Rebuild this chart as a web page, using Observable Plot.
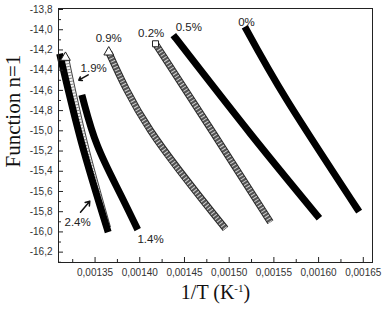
<!DOCTYPE html>
<html><head><meta charset="utf-8">
<script src="https://cdn.jsdelivr.net/npm/d3@7"></script>
<script src="https://cdn.jsdelivr.net/npm/@observablehq/plot@0.6"></script>
<style>body{margin:0;background:#fff}#chart{width:382px;height:323px}</style>
</head><body><div id="chart"></div>
<script>
// ---- data ----
const x_0   = [0.0015194, 0.0015649, 0.0016432];
const y_0   = [-14.001, -14.700, -15.771];
const x_05  = [0.0014399, 0.0015238, 0.0015984];
const y_05  = [-14.080, -15.029, -15.838];
const x_02  = [0.0014176, 0.0014828, 0.0015462];
const y_02  = [-14.139, -15.029, -15.904];
const x_09  = [0.0013653, 0.0014120, 0.0014959];
const y_09  = [-14.222, -14.997, -15.969];
const x_19  = [0.0013169, 0.0013380, 0.0013640];
const y_19  = [-14.275, -15.116, -15.960];
const x_14  = [0.0013362, 0.0013504, 0.0013765, 0.0013960];
const y_14  = [-14.677, -15.145, -15.590, -15.946];
const x_24  = [0.0013113, 0.0013348, 0.0013635];
const y_24  = [-14.272, -15.116, -15.969];

const labelText = ["0%", "0.5%", "0.2%", "0.9%", "1.9%", "2.4%", "1.4%"];
const labelX    = [0.0015194, 0.0014548, 0.0014128, 0.0013653, 0.0013485, 0.0013305, 0.0014120];
const labelY    = [-13.925, -13.975, -14.040, -14.080, -14.381, -15.904, -16.078];

const arrowX1 = [0.0013423, 0.0013337];
const arrowY1 = [-14.446, -15.805];
const arrowX2 = [0.0013318, 0.0013441];
const arrowY2 = [-14.499, -15.696];

const yTicks  = [-13.8, -14.0, -14.2, -14.4, -14.6, -14.8, -15.0, -15.2, -15.4, -15.6, -15.8, -16.0, -16.2];
const yMinor  = [-13.9, -14.1, -14.3, -14.5, -14.7, -14.9, -15.1, -15.3, -15.5, -15.7, -15.9, -16.1, -16.3];
const xTicks  = [0.00135, 0.00140, 0.00145, 0.00150, 0.00155, 0.00160, 0.00165];
const xMinor  = [0.001325, 0.001375, 0.001425, 0.001475, 0.001525, 0.001575, 0.001625];

const xTitle = "1/T (K-1)";
const yTitle = "Function n=1";

// ---- build tables ----
const mk = (name, xs, ys) => xs.map((x, i) => ({name, x, y: ys[i]}));
const s0 = mk("0%", x_0, y_0), s05 = mk("0.5%", x_05, y_05), s14 = mk("1.4%", x_14, y_14), s24 = mk("2.4%", x_24, y_24);
const s02 = mk("0.2%", x_02, y_02), s09 = mk("0.9%", x_09, y_09), s19 = mk("1.9%", x_19, y_19);
const labels = labelText.map((t, i) => ({t, x: labelX[i], y: labelY[i]}));
const arrows = arrowX1.map((_, i) => ({x1: arrowX1[i], y1: arrowY1[i], x2: arrowX2[i], y2: arrowY2[i]}));

const fmtY = d => d.toFixed(1).replace(".", ",");
const fmtX = d => d.toFixed(5).replace(".", ",");

const blackLine = (d, curve = "natural") => Plot.line(d, {x: "x", y: "y", curve, stroke: "#000", strokeWidth: 7, strokeLinecap: "square"});
function hatched(data, outline, fill, stripe, dash, curve = "natural") {
  return [
    Plot.line(data, {x: "x", y: "y", curve, stroke: outline, strokeWidth: 7, strokeLinecap: "butt"}),
    Plot.line(data, {x: "x", y: "y", curve, stroke: fill, strokeWidth: 5, strokeLinecap: "butt"}),
    Plot.line(data, {x: "x", y: "y", curve, stroke: stripe, strokeWidth: 5, strokeDasharray: dash, strokeLinecap: "butt"})
  ];
}

const chart = Plot.plot({
  width: 382, height: 323,
  marginLeft: 58, marginRight: 10, marginTop: 8, marginBottom: 61,
  style: {fontFamily: "'Liberation Sans', Arial, sans-serif", fontSize: "10px", color: "#333", background: "#fff"},
  x: {domain: [0.0013091, 0.0016603], label: null},
  y: {domain: [-16.3025, -13.790], label: null},
  marks: [
    ...hatched(s19, "#444", "#f4f4f4", "#888", "1 2"),
    blackLine(s24),
    blackLine(s14, "basis"),
    blackLine(s05),
    blackLine(s0),
    ...hatched(s09, "#2a2a2a", "#555", "#d0d0d0", "1 2.2"),
    ...hatched(s02, "#2a2a2a", "#555", "#d0d0d0", "1 2.2"),
    Plot.dot([s09[0], s19[0]], {x: "x", y: "y", symbol: "triangle", r: 3.6, fill: "#fff", stroke: "#222", strokeWidth: 1}),
    Plot.dot([s02[0]], {x: "x", y: "y", symbol: "square", r: 3.4, fill: "#fff", stroke: "#222", strokeWidth: 1}),
    Plot.text(labels, {x: "x", y: "y", text: "t", fontSize: 11.5, fill: "#222"}),
    Plot.arrow(arrows, {x1: "x1", y1: "y1", x2: "x2", y2: "y2", stroke: "#111", strokeWidth: 1.5, headLength: 5, headAngle: 70}),
    Plot.frame({stroke: "#222", strokeWidth: 1}),
    Plot.axisY(yTicks, {tickSize: 0, tickPadding: 6, tickFormat: fmtY, fill: "#333"}),
    Plot.axisY(yTicks, {tickSize: 5, dx: 5, tickFormat: () => "", stroke: "#222"}),
    Plot.axisY(yMinor, {tickSize: 3, dx: 3, tickFormat: () => "", stroke: "#222"}),
    Plot.axisX(xTicks, {tickSize: 0, tickPadding: 6, tickFormat: fmtX, fill: "#333"}),
    Plot.axisX(xTicks, {tickSize: 5, dy: -5, tickFormat: () => "", stroke: "#222"}),
    Plot.axisX(xMinor, {tickSize: 3, dy: -3, tickFormat: () => "", stroke: "#222"}),
    Plot.text([yTitle], {frameAnchor: "left", text: d => d, rotate: -90, dx: -45, dy: 32,
      fontFamily: "'Liberation Serif', 'Times New Roman', serif", fontSize: 21, fill: "#111"}),
    Plot.text([xTitle], {frameAnchor: "bottom", text: d => d, dy: 36,
      fontFamily: "'Liberation Serif', 'Times New Roman', serif", fontSize: 20, fill: "#111"})
  ]
});
document.getElementById("chart").appendChild(chart);

// superscript in the x title
d3.select(chart).selectAll("text").filter(function () { return this.textContent === xTitle; })
  .each(function () {
    const t = d3.select(this);
    t.text(null);
    t.append("tspan").text("1/T (K");
    t.append("tspan").attr("dy", "-7").attr("font-size", "11").text("-1");
    t.append("tspan").attr("dy", "7").text(")");
  });
</script>
</body></html>
